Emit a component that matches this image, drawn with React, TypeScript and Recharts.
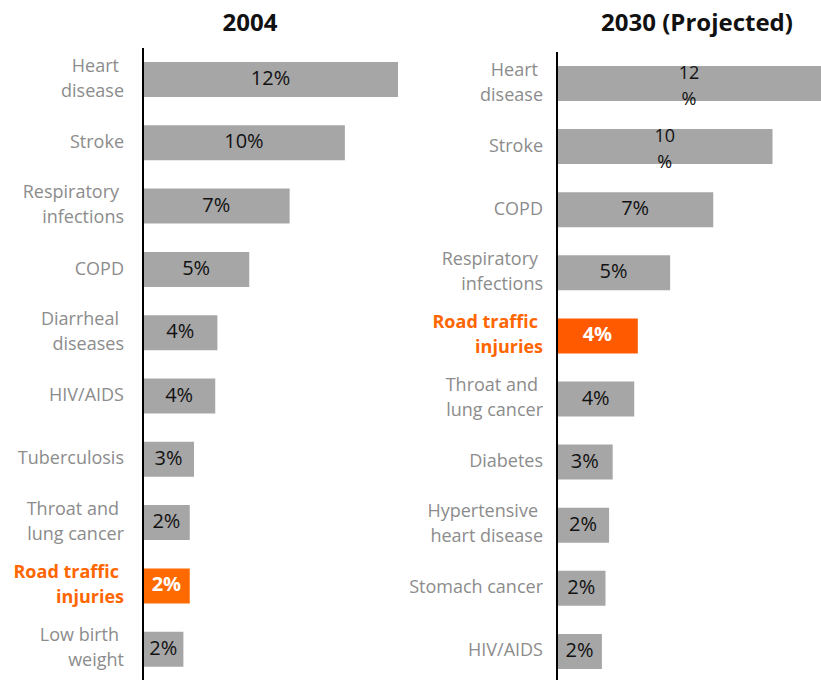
import React from 'react';
import { BarChart, Bar, XAxis, YAxis, Cell, LabelList } from 'recharts';

// 2004
const causes2004 = [
  'Heart\ndisease', 'Stroke', 'Respiratory\ninfections', 'COPD', 'Diarrheal\ndiseases',
  'HIV/AIDS', 'Tuberculosis', 'Throat and\nlung cancer', 'Road traffic\ninjuries', 'Low birth\nweight',
];
const share2004 = [12.0, 9.5, 6.9, 5.0, 3.5, 3.4, 2.4, 2.2, 2.2, 1.9];
const labels2004 = ['12%', '10%', '7%', '5%', '4%', '4%', '3%', '2%', '2%', '2%'];

// 2030 (projected)
const causes2030 = [
  'Heart\ndisease', 'Stroke', 'COPD', 'Respiratory\ninfections', 'Road traffic\ninjuries',
  'Throat and\nlung cancer', 'Diabetes', 'Hypertensive\nheart disease', 'Stomach cancer', 'HIV/AIDS',
];
const share2030 = [14.7, 12.0, 8.7, 6.3, 4.5, 4.3, 3.1, 2.9, 2.7, 2.5];
const labels2030 = ['12\n%', '10\n%', '7%', '5%', '4%', '4%', '3%', '2%', '2%', '2%'];

const HIGHLIGHT = 'Road traffic\ninjuries';
const FONT = '"Open Sans", sans-serif';

const rows = (names: string[], vals: number[], labels: string[]) =>
  names.map((name, i) => ({ name, value: vals[i], label: labels[i] }));

const data2004 = rows(causes2004, share2004, labels2004);
const data2030 = rows(causes2030, share2030, labels2030);

const CatTick = (props: any) => {
  const { y, payload, right } = props;
  const lines: string[] = String(payload.value).split('\n');
  const hot = payload.value === HIGHLIGHT;
  const fill = hot ? '#ff6600' : '#8c8c8c';
  return (
    <g>
      {lines.map((t, i) => {
        const dy = lines.length === 1 ? -2 : i === 0 ? -15 : 10;
        return (
          <text
            key={i}
            x={lines.length > 1 && i === 0 ? right - 5 : right}
            y={y + dy}
            textAnchor="end"
            dominantBaseline="central"
            fontFamily={FONT}
            fontSize={18}
            fontWeight={hot ? 700 : 400}
            fill={fill}
          >
            {t}
          </text>
        );
      })}
    </g>
  );
};

const ValueLabel = (props: any) => {
  const { x, y, width, height, value, index, names } = props;
  const hot = names[index] === HIGHLIGHT;
  const lines: string[] = String(value).split('\n');
  const cx = x + width / 2;
  const cy = y + height / 2;
  return (
    <g>
      {lines.map((t, i) => (
        <text
          key={i}
          x={cx}
          y={lines.length === 1 ? cy - 2 : cy + (i === 0 ? -12 : 14)}
          textAnchor="middle"
          dominantBaseline="central"
          fontFamily={FONT}
          fontSize={lines.length === 1 ? 20 : 18}
          fontWeight={hot ? 700 : 400}
          fill={hot ? '#ffffff' : '#111111'}
        >
          {t}
        </text>
      ))}
    </g>
  );
};

const Panel = ({ data, names, max, axisW, tickRight, top, right, height, width, hotColor }: any) => (
  <BarChart
    layout="vertical"
    width={width}
    height={height}
    data={data}
    margin={{ top, right, bottom: 0, left: 0 }}
    barCategoryGap={0}
  >
    <XAxis type="number" domain={[0, max]} hide allowDataOverflow />
    <YAxis
      type="category"
      dataKey="name"
      width={axisW}
      axisLine={{ stroke: '#000', strokeWidth: 2 }}
      tickLine={false}
      interval={0}
      tick={(p: any) => <CatTick {...p} right={tickRight} />}
    />
    <Bar dataKey="value" barSize={35} isAnimationActive={false}>
      {data.map((d: any, i: number) => (
        <Cell key={`c-${i}`} fill={d.name === HIGHLIGHT ? hotColor : '#a6a6a6'} />
      ))}
      <LabelList dataKey="label" content={(p: any) => <ValueLabel {...p} names={names} />} />
    </Bar>
  </BarChart>
);

const titleStyle: React.CSSProperties = {
  position: 'absolute',
  top: 5,
  fontFamily: FONT,
  fontWeight: 700,
  fontSize: 24,
  color: '#111',
  textAlign: 'center',
  whiteSpace: 'nowrap',
};

const App = () => (
  <div style={{ position: 'absolute', left: 0, top: 0, width: 821, height: 680, overflow: 'hidden', background: '#fff' }}>
    <div style={{ ...titleStyle, left: 150, width: 200 }}>2004</div>
    <div style={{ ...titleStyle, left: 590, width: 214 }}>2030 (Projected)</div>
    <div style={{ position: 'absolute', left: 0, top: 0 }}>
      <Panel
        data={data2004}
        names={causes2004}
        max={12}
        axisW={143}
        tickRight={124}
        top={48}
        right={12}
        height={681}
        width={410}
        hotColor="#ff6a00"
      />
    </div>
    <div style={{ position: 'absolute', left: 410, top: 0 }}>
      <Panel
        data={data2030}
        names={causes2030}
        max={14.7}
        axisW={147}
        tickRight={133}
        top={52}
        right={0}
        height={683}
        width={411}
        hotColor="#ff5a00"
      />
    </div>
  </div>
);

export default App;
